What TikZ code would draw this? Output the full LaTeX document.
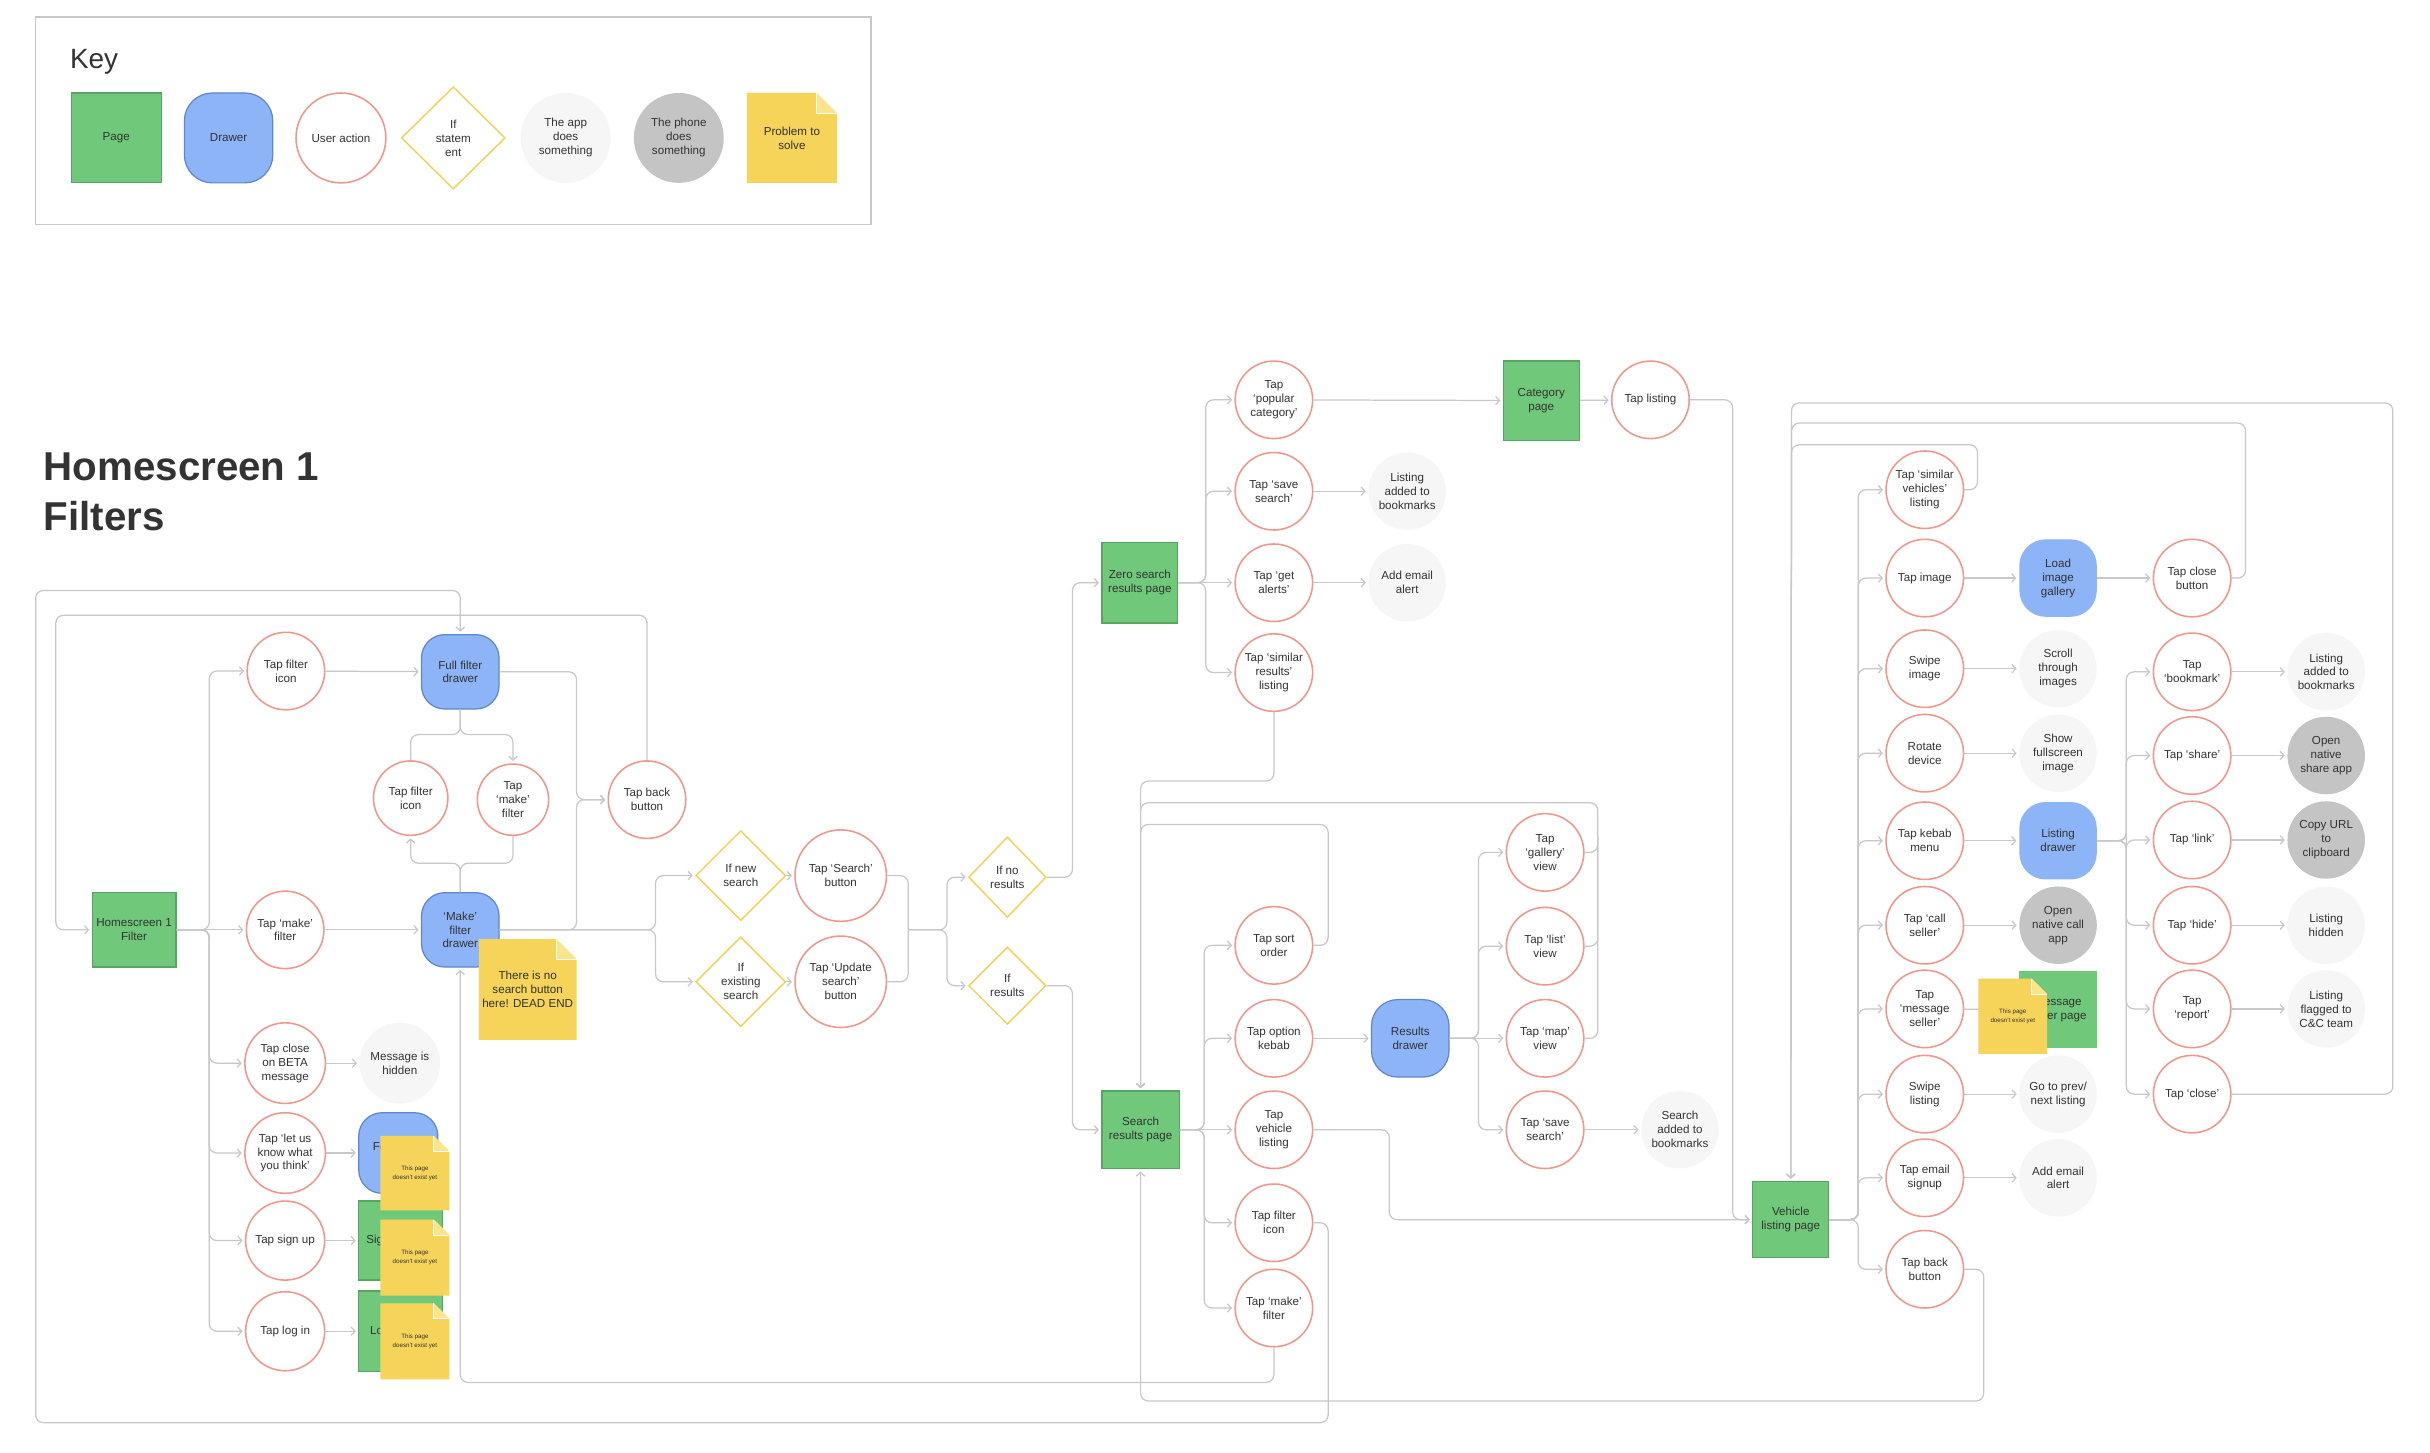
\documentclass[tikz,border=0pt]{standalone}
\usepackage{fontspec}
\setmainfont{Liberation Sans}
\usetikzlibrary{shapes.geometric,arrows.meta}
\definecolor{pagefill}{RGB}{112,200,122}
\definecolor{pagedraw}{RGB}{88,165,98}
\definecolor{drawfill}{RGB}{140,180,247}
\definecolor{drawdraw}{RGB}{95,135,205}
\definecolor{actdraw}{RGB}{240,150,140}
\definecolor{conddraw}{RGB}{245,208,80}
\definecolor{appfill}{RGB}{246,246,246}
\definecolor{phonefill}{RGB}{196,196,196}
\definecolor{notefill}{RGB}{246,212,90}
\definecolor{notefold}{RGB}{250,228,140}
\definecolor{linegray}{RGB}{200,200,200}
\definecolor{txt}{RGB}{51,51,51}
\newcommand\stickynote[8]{%
  \fill[notefill] (#2,#3) -- ({#4-#6},#3) -- (#4,{#3+#6}) -- (#4,#5) -- (#2,#5) -- cycle;
  \fill[notefold] ({#4-#6},#3) -- ({#4-#6},{#3+#6}) -- (#4,{#3+#6}) -- cycle;
  \draw[white, line width=0.6pt] ({#4-#6},#3) -- ({#4-#6},{#3+#6}) -- (#4,{#3+#6});
  \node[align=center, text=txt, font=#7, inner sep=0pt] (#1) at ({(#2+#4)/2},{(#3+#5)/2}) {#8};
}
\tikzset{
  base/.style={align=center, text=txt, inner sep=1pt, font=\fontsize{7.5}{9}\selectfont},
  page/.style={base, rectangle, fill=pagefill, draw=pagedraw, line width=0.8pt, minimum width=50pt, minimum height=50pt},
  drawer/.style={base, rectangle, rounded corners=15pt, fill=drawfill, draw=drawdraw, line width=0.8pt, minimum width=50pt, minimum height=50pt},
  drawernb/.style={drawer, draw=none},
  act/.style={base, circle, fill=white, draw=actdraw, line width=1pt, minimum size=50pt, inner sep=0pt},
  cond/.style={base, diamond, fill=white, draw=conddraw, line width=0.9pt, minimum width=58pt, minimum height=58pt, inner sep=0pt},
  app/.style={base, circle, fill=appfill, minimum size=50pt, inner sep=0pt},
  phone/.style={base, circle, fill=phonefill, minimum size=50pt, inner sep=0pt},
  conn/.style={draw=linegray, line width=0.8pt, rounded corners=5pt},
  arr/.style={conn, -{Straight Barb[length=2.5pt,width=5.5pt]}, shorten >=1.5pt},
}
\begin{document}
\begin{tikzpicture}[x=1pt, y=-1pt]
\useasboundingbox (0,0) rectangle (1568,937);
\fill[white] (0,0) rectangle (1568,937);

% ---------- Key ----------
\draw[linegray, line width=1pt] (23,11) rectangle (562,145);
\node[anchor=base west, text=txt, font=\fontsize{18}{20}\selectfont, inner sep=0pt] (keytitle) at (45,44) {Key};
\node[page, minimum width=58pt, minimum height=58pt] (kpage) at (75,89) {Page};
\node[drawer, rounded corners=18pt, minimum width=57pt, minimum height=58pt] (kdrawer) at (147.5,89) {Drawer};
\node[act, minimum size=58pt] (kact) at (220,89) {User action};
\node[cond, minimum width=67pt, minimum height=66pt] (kif) at (292.5,89) {If\\statem\\ent};
\node[app, minimum size=58pt] (kapp) at (365,89) {The app\\does\\something};
\node[phone, minimum size=58pt] (kphone) at (438,89) {The phone\\does\\something};
\stickynote{knote}{482}{60}{540}{118}{13}{\fontsize{7.5}{9}\selectfont}{Problem to\\solve}

% ---------- Title ----------
\node[anchor=base west, inner sep=0pt, text=txt, font=\fontsize{26}{30}\selectfont\bfseries] (title1) at (28,310) {Homescreen 1};
\node[anchor=base west, inner sep=0pt, text=txt, font=\fontsize{26}{30}\selectfont\bfseries] (title2) at (28,342) {Filters};

% ---------- Section 1 nodes ----------
\node[page, minimum width=54pt, minimum height=48pt] (hs) at (86.5,600) {Homescreen 1\\Filter};
\node[act] (tfi1) at (184.5,433) {Tap filter\\icon};
\node[drawer, minimum height=48pt] (fdraw) at (297,433.5) {Full filter\\drawer};
\node[act, minimum size=48pt] (tfi2) at (265,515) {Tap filter\\icon};
\node[act, minimum size=46pt] (tm2) at (331,516) {Tap\\‘make’\\filter};
\node[act] (tback) at (417.5,516) {Tap back\\button};
\node[act] (tm1) at (184,600) {Tap ‘make’\\filter};
\node[drawer, minimum height=48pt] (mdraw) at (297,600) {‘Make’\\filter\\drawer};
\node[act, minimum size=52pt] (tbeta) at (184,686) {Tap close\\on BETA\\message};
\node[app, minimum size=52pt] (hidden) at (258,686) {Message is\\hidden};
\node[act, minimum size=52pt] (tlet) at (184,744) {Tap ‘let us\\know what\\you think’};
\node[drawer, minimum width=51pt, minimum height=52pt] (fb) at (257,744) {Feedback\\drawer};
\node[act, minimum size=51pt] (tsign) at (184,800.5) {Tap sign up};
\node[page, minimum width=54pt, minimum height=51pt] (signup) at (258.5,800.5) {Sign up page};
\node[act, minimum size=51pt] (tlog) at (184,859) {Tap log in};
\node[page, minimum width=54pt, minimum height=52pt] (login) at (258.5,859) {Log in page};

% ---------- Section 2 nodes ----------
\node[cond] (ifnew) at (478,565) {If new\\search};
\node[cond] (ifex) at (478,633.5) {If\\existing\\search};
\node[act, minimum size=59pt] (tsearch) at (542.5,565) {Tap ‘Search’\\button};
\node[act, minimum size=59pt] (tupdate) at (542.5,633.5) {Tap ‘Update\\search’\\button};
\node[cond, minimum width=50pt, minimum height=52pt] (ifno) at (650,566) {If no\\results};
\node[cond, minimum width=50pt, minimum height=50pt] (ifres) at (650,636) {If\\results};

\node[page, minimum width=49pt, minimum height=52pt] (zero) at (735.5,376) {Zero search\\results page};
\node[act] (tpop) at (822,258) {Tap\\‘popular\\category’};
\node[act] (tsave) at (822,317) {Tap ‘save\\search’};
\node[act] (talerts) at (822,376) {Tap ‘get\\alerts’};
\node[act] (tsim) at (822,434) {Tap ‘similar\\results’\\listing};
\node[app] (lbook1) at (908,317) {Listing\\added to\\bookmarks};
\node[app] (alert1) at (908,376) {Add email\\alert};
\node[page, minimum width=49pt, minimum height=51pt] (cat) at (994.5,258.5) {Category\\page};
\node[act] (tlist) at (1065,258) {Tap listing};

\node[page] (srp) at (736,729) {Search\\results page};
\node[act] (tsort) at (822,610) {Tap sort\\order};
\node[act] (tkebab) at (822,670) {Tap option\\kebab};
\node[act] (tveh) at (822,729) {Tap\\vehicle\\listing};
\node[act] (tfi3) at (822,789) {Tap filter\\icon};
\node[act] (tm3) at (822,844) {Tap ‘make’\\filter};
\node[drawer, rounded corners=17pt] (rdraw) at (910,670) {Results\\drawer};
\node[act] (tgal) at (997,550) {Tap\\‘gallery’\\view};
\node[act] (tlv) at (997,610.5) {Tap ‘list’\\view};
\node[act] (tmap) at (997,670) {Tap ‘map’\\view};
\node[act] (tss) at (997,729) {Tap ‘save\\search’};
\node[app] (sadd) at (1084,729) {Search\\added to\\bookmarks};

% ---------- Section 3 nodes ----------
\node[page, minimum width=49pt, minimum height=49pt] (vlp) at (1155.5,787) {Vehicle\\listing page};
\node[act] (tsv) at (1242,316) {Tap ‘similar\\vehicles’\\listing};
\node[act] (timg) at (1242,373) {Tap image};
\node[act] (swimg) at (1242,431.5) {Swipe\\image};
\node[act] (rot) at (1242,486) {Rotate\\device};
\node[act] (tkm) at (1242,542.5) {Tap kebab\\menu};
\node[act] (tcall) at (1242,597) {Tap ‘call\\seller’};
\node[act] (tmsg) at (1242,651) {Tap\\‘message\\seller’};
\node[act] (swl) at (1242,706) {Swipe\\listing};
\node[act] (temail) at (1242,760) {Tap email\\signup};
\node[act] (tbk) at (1242,819) {Tap back\\button};

\node[drawernb, rounded corners=17pt] (gal) at (1328,373) {Load\\image\\gallery};
\node[app] (scroll) at (1328,431.5) {Scroll\\through\\images};
\node[app] (fulls) at (1328,486) {Show\\fullscreen\\image};
\node[drawernb, rounded corners=17pt] (ldraw) at (1328,542.5) {Listing\\drawer};
\node[phone] (call) at (1328,597) {Open\\native call\\app};
\node[page, draw=none] (msgp) at (1328,651.5) {Message\\seller page};
\node[app] (prev) at (1328,706) {Go to prev/\\next listing};
\node[app] (alert2) at (1328,760) {Add email\\alert};

\node[act] (tclose) at (1414.5,373) {Tap close\\button};
\node[act] (tbm) at (1414.5,433.5) {Tap\\‘bookmark’};
\node[act] (tshare) at (1414.5,487.5) {Tap ‘share’};
\node[act] (tlink) at (1414.5,542) {Tap ‘link’};
\node[act] (thide) at (1414.5,597) {Tap ‘hide’};
\node[act] (trep) at (1414.5,651) {Tap\\‘report’};
\node[act] (tcl) at (1414.5,706) {Tap ‘close’};

\node[app] (lbook2) at (1501,433.5) {Listing\\added to\\bookmarks};
\node[phone] (share) at (1501,487.5) {Open\\native\\share app};
\node[phone] (copy) at (1501,542) {Copy URL\\to\\clipboard};
\node[app] (lhid) at (1501,597) {Listing\\hidden};
\node[app] (flag) at (1501,651) {Listing\\flagged to\\C\&C team};

% ---------- Connectors section 1 ----------
\draw[arr] (hs.east) -- (135,600) |- (tfi1.west);
\draw[arr] (hs.east) -- (tm1.west);
\draw[arr] (hs.east) -- (135,600) |- (tbeta.west);
\draw[arr] (hs.east) -- (135,600) |- (tlet.west);
\draw[arr] (hs.east) -- (135,600) |- (tsign.west);
\draw[arr] (hs.east) -- (135,600) |- (tlog.west);
\draw[arr] (tfi1) -- (fdraw);
\draw[arr] (tm1) -- (mdraw);
\draw[arr] (tbeta) -- (hidden);
\draw[arr] (tlet) -- (fb);
\draw[arr] (tsign) -- (signup);
\draw[arr] (tlog) -- (login);
\draw[conn] (fdraw.south) -- (297,474) -| (tfi2.north);
\draw[arr] (fdraw.south) -- (297,474) -| (tm2.north);
\draw[arr] (mdraw.north) -- (297,557) -| (tfi2.south);
\draw[conn] (mdraw.north) -- (297,557) -| (tm2.south);
\draw[arr] (fdraw.east) -- (372,433.5) |- (tback.west);
\draw[arr] (mdraw.east) -- (372,600) |- (tback.west);
\draw[arr] (tback.north) |- (36,397) |- (hs.west);
\draw[arr] (tfi3.east) -- (857,789) |- (23,918) |- (297,381) -- (fdraw.north);
\draw[arr] (tm3.south) |- (297,892) -- (mdraw.south);

% ---------- Connectors section 2 ----------
\draw[arr] (mdraw.east) -- (423,600) |- (ifnew.west);
\draw[arr] (mdraw.east) -- (423,600) |- (ifex.west);
\draw[arr] (ifnew) -- (tsearch);
\draw[arr] (ifex) -- (tupdate);
\coordinate (j1) at (586,600);
\draw[conn] (tsearch.east) -| (j1);
\draw[conn] (tupdate.east) -| (j1);
\draw[arr] (j1) -- (611,600) |- (ifno.west);
\draw[arr] (j1) -- (611,600) |- (ifres.west);
\draw[arr] (ifno.east) -- (692,566) |- (zero.west);
\draw[arr] (ifres.east) -- (692,636) |- (srp.west);

\draw[arr] (zero.east) -- (778,376) |- (tpop.west);
\draw[arr] (zero.east) -- (778,376) |- (tsave.west);
\draw[arr] (zero.east) -- (talerts.west);
\draw[arr] (zero.east) -- (778,376) |- (tsim.west);
\draw[arr] (tpop) -- (cat);
\draw[arr] (cat) -- (tlist);
\draw[arr] (tsave) -- (lbook1);
\draw[arr] (talerts) -- (alert1);
\draw[arr] (tlist.east) -- (1118,258) |- (vlp.west);
\draw[arr] (tsim.south) |- (736,504) -- (srp.north);

\draw[arr] (srp.east) -- (777,729) |- (tsort.west);
\draw[arr] (srp.east) -- (777,729) |- (tkebab.west);
\draw[arr] (srp.east) -- (tveh.west);
\draw[arr] (srp.east) -- (777,729) |- (tfi3.west);
\draw[arr] (srp.east) -- (777,729) |- (tm3.west);
\draw[arr] (tkebab) -- (rdraw);
\draw[arr] (rdraw.east) -- (954,670) |- (tgal.west);
\draw[arr] (rdraw.east) -- (954,670) |- (tlv.west);
\draw[arr] (rdraw.east) -- (tmap.west);
\draw[arr] (rdraw.east) -- (954,670) |- (tss.west);
\draw[arr] (tss) -- (sadd);
\draw[arr] (tsort.east) -- (857,610) |- (736,532) -- (srp.north);
\draw[arr] (tgal.east) -- (1031,550) |- (736,518) -- (srp.north);
\draw[conn] (tlv.east) -| (1031,540);
\draw[conn] (tmap.east) -| (1031,540);
\draw[arr] (tveh.east) -- (896.5,729) |- (vlp.west);

% ---------- Connectors section 3 ----------
\foreach \n in {tsv,timg,swimg,rot,tkm,tcall,tmsg,swl,temail,tbk}{
  \draw[arr] (vlp.east) -- (1199,787) |- (\n.west);
}
\draw[arr] (timg) -- (gal);
\draw[arr] (swimg) -- (scroll);
\draw[arr] (rot) -- (fulls);
\draw[arr] (tkm) -- (ldraw);
\draw[arr] (tcall) -- (call);
\draw[arr] (tmsg) -- (msgp);
\draw[arr] (swl) -- (prev);
\draw[arr] (temail) -- (alert2);
\draw[arr] (gal) -- (tclose);
\draw[arr] (tclose.east) -- (1449,373) |- (1156,273) -- (vlp.north);
\draw[arr] (tsv.east) -- (1276,316) |- (1156,287) -- (vlp.north);
\draw[arr] (tcl.east) -- (1544,706) |- (1156,260) -- (vlp.north);
\foreach \n in {tbm,tshare,tlink,thide,trep,tcl}{
  \draw[arr] (ldraw.east) -- (1372,542.5) |- (\n.west);
}
\draw[arr] (tbm) -- (lbook2);
\draw[arr] (tshare) -- (share);
\draw[arr] (tlink) -- (copy);
\draw[arr] (thide) -- (lhid);
\draw[arr] (trep) -- (flag);
\draw[arr] (tbk.east) -- (1280,819) |- (736,904) -- (srp.south);

% ---------- Notes (on top) ----------
\stickynote{deadend}{309}{606}{372}{671}{13}{\fontsize{7.5}{9}\selectfont}{There is no\\search button\\here! DEAD END}
\stickynote{nfb}{245.5}{733}{290}{781}{10}{\fontsize{4}{6}\selectfont}{This page\\doesn’t exist yet}
\stickynote{nsign}{245.5}{787}{290}{836}{10}{\fontsize{4}{6}\selectfont}{This page\\doesn’t exist yet}
\stickynote{nlog}{245.5}{841}{290}{890}{10}{\fontsize{4}{6}\selectfont}{This page\\doesn’t exist yet}
\stickynote{nmsg}{1276.5}{631.5}{1321}{680}{10}{\fontsize{4}{6}\selectfont}{This page\\doesn’t exist yet}
\end{tikzpicture}
\end{document}
